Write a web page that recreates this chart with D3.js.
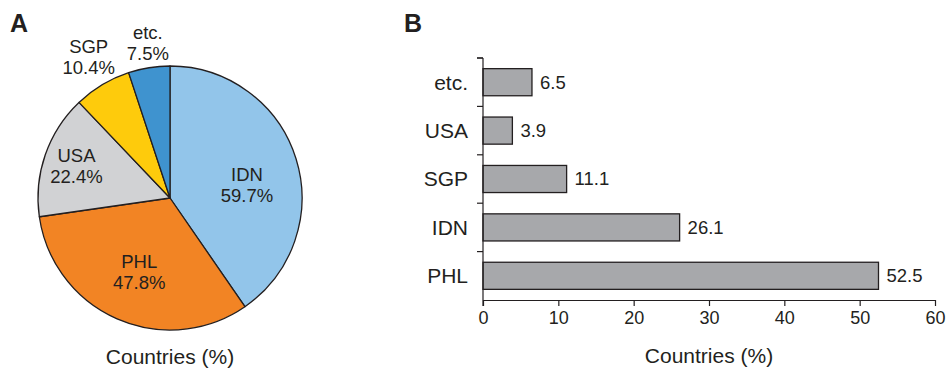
<!DOCTYPE html>
<html><head><meta charset="utf-8">
<script src="https://cdn.jsdelivr.net/npm/d3@7"></script>
<style>body{margin:0;background:#fff}svg{display:block;font-family:"Liberation Sans",Arial,sans-serif}</style>
</head><body>
<svg id="c" width="950" height="369"></svg>
<script>
// Panel A data
const pieCategories = ["IDN", "PHL", "USA", "SGP", "etc."];
const pieValues = [59.7, 47.8, 22.4, 10.4, 7.5];
const pieColors = ["#92c5ea", "#f28424", "#d1d2d4", "#fecb0c", "#3f93cf"];
// Panel B data
const barCategories = ["PHL", "IDN", "SGP", "USA", "etc."];
const barValues = [52.5, 26.1, 11.1, 3.9, 6.5];
const xTicks = [0, 10, 20, 30, 40, 50, 60];

const svg = d3.select("#c");
const ink = "#231f20";

// Panel letters
svg.append("text").attr("x", 10).attr("y", 32).attr("font-size", 25).attr("font-weight", "bold").attr("fill", ink).text("A");
svg.append("text").attr("x", 404).attr("y", 32).attr("font-size", 25).attr("font-weight", "bold").attr("fill", ink).text("B");

// ---- Pie ----
const cx = 170, cy = 198, R = 132;
const g = svg.append("g").attr("transform", `translate(${cx},${cy})`);
const pie = d3.pie().sort(null).value(d => d)(pieValues);
const arc = d3.arc().innerRadius(0).outerRadius(R);
g.selectAll("path").data(pie).join("path")
  .attr("d", arc).attr("fill", (d, i) => pieColors[i])
  .attr("stroke", ink).attr("stroke-width", 1.3).attr("stroke-linejoin", "round");
// label placement (layout only): radius and angle nudge in degrees
const labelR = [78, 80, 99, 163, 157];
const labelNudge = [8, -1, 0, 1, 1];
pie.forEach((d, i) => {
  const a = (d.startAngle + d.endAngle) / 2 + labelNudge[i] * Math.PI / 180;
  const x = Math.sin(a) * labelR[i], y = -Math.cos(a) * labelR[i];
  const t = g.append("text").attr("text-anchor", "middle").attr("fill", ink).attr("font-size", 18.5);
  t.append("tspan").attr("x", x).attr("y", y - 4).text(pieCategories[i]);
  t.append("tspan").attr("x", x).attr("y", y + 17).text(pieValues[i].toFixed(1) + "%");
});
svg.append("text").attr("x", cx).attr("y", 364).attr("text-anchor", "middle").attr("font-size", 21).attr("fill", ink).text("Countries (%)");

// ---- Bars ----
const x = d3.scaleLinear().domain([0, 60]).range([483, 935]);
const y = d3.scaleBand().domain(barCategories).range([300, 58]).paddingInner(0.44).paddingOuter(0.22);
const bg = svg.append("g");
bg.selectAll("rect").data(barCategories).join("rect")
  .attr("x", x(0)).attr("y", d => y(d))
  .attr("width", (d, i) => x(barValues[i]) - x(0)).attr("height", y.bandwidth())
  .attr("fill", "#a7a8ab").attr("stroke", ink).attr("stroke-width", 1.3);
bg.selectAll("text.v").data(barCategories).join("text").attr("class", "v")
  .attr("x", (d, i) => x(barValues[i]) + 8).attr("y", d => y(d) + y.bandwidth() / 2)
  .attr("dy", "0.35em").attr("font-size", 18.5).attr("fill", ink)
  .text((d, i) => barValues[i].toFixed(1));

// x axis
const xa = svg.append("g").attr("transform", "translate(0,300)")
  .call(d3.axisBottom(x).tickValues(xTicks).tickSize(6).tickPadding(5).tickSizeOuter(0));
xa.select(".domain").attr("stroke", ink).attr("stroke-width", 1.2);
xa.selectAll(".tick line").attr("stroke", ink).attr("stroke-width", 1.2);
xa.selectAll(".tick text").attr("font-size", 18).attr("fill", ink).attr("font-family", "Liberation Sans, Arial, sans-serif");

// y axis: line plus ticks between categories
svg.append("line").attr("x1", x(0)).attr("x2", x(0)).attr("y1", 58).attr("y2", 306).attr("stroke", ink).attr("stroke-width", 1.2);
const bounds = barCategories.map(d => y(d) - y.step() * y.paddingInner() / 2);
svg.selectAll("line.yt").data(bounds).join("line").attr("class", "yt")
  .attr("x1", x(0) - 6).attr("x2", x(0)).attr("y1", d => d).attr("y2", d => d)
  .attr("stroke", ink).attr("stroke-width", 1.2);
svg.append("line").attr("x1", x(0) - 6).attr("x2", x(0)).attr("y1", 58).attr("y2", 58).attr("stroke", ink).attr("stroke-width", 1.2);
svg.selectAll("text.cat").data(barCategories).join("text").attr("class", "cat")
  .attr("x", 468).attr("y", d => y(d) + y.bandwidth() / 2).attr("dy", "0.35em")
  .attr("text-anchor", "end").attr("font-size", 21).attr("fill", ink).text(d => d);
svg.append("text").attr("x", 709).attr("y", 363).attr("text-anchor", "middle").attr("font-size", 21).attr("fill", ink).text("Countries (%)");
</script>
</body></html>
